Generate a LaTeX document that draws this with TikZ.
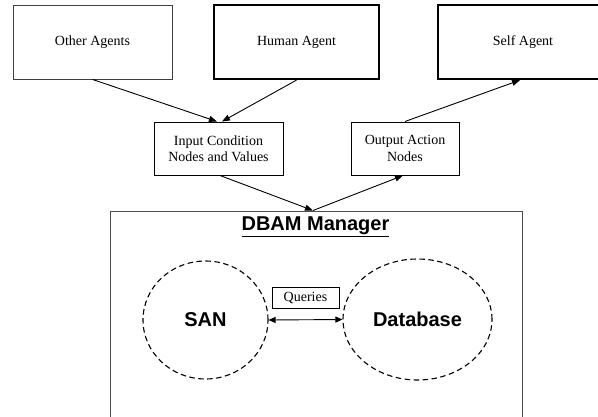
\documentclass[tikz,border=0pt]{standalone}
\usepackage{fontspec}
\setmainfont{Liberation Serif}
\newfontfamily\headfont{Liberation Sans}
\usetikzlibrary{shapes.geometric,arrows.meta}
\tikzset{
  box/.style={draw, rectangle, inner sep=0pt, line width=1pt, align=center,
    font=\fontsize{14}{16.5}\selectfont},
  thinbox/.style={box, draw=black!75, line width=0.9pt},
  thickbox/.style={box, line width=2.2pt},
  cloud/.style={draw, ellipse, inner sep=0pt, line width=1.1pt,
    dash pattern=on 5.5pt off 3.5pt, font=\headfont\bfseries\fontsize{20}{24}\selectfont},
  link/.style={line width=0.9pt, -{Triangle[length=8pt,width=6pt]}},
  both/.style={line width=0.9pt, {Triangle[length=7pt,width=6pt]}-{Triangle[length=7pt,width=6pt]}}
}
\begin{document}
\begin{tikzpicture}[x=1pt,y=-1pt]
\useasboundingbox (0,0) rectangle (598,416);

% agents
\node[thinbox, minimum width=159pt, minimum height=74pt] (other) at (92.5,42) {Other Agents};
\node[thickbox, minimum width=165pt, minimum height=74pt] (human) at (296.5,42) {Human Agent};
\node[thickbox, minimum width=170pt, minimum height=74pt] (self) at (523,42) {Self Agent};

% condition / action nodes
\node[box, minimum width=129pt, minimum height=53pt] (input) at (218.5,148.5) {Input Condition\\Nodes and Values};
\node[box, minimum width=108pt, minimum height=53pt] (output) at (405,148.5) {Output Action\\Nodes};

% manager frame (open at the bottom edge of the page)
\node[draw=black!70, line width=1pt, rectangle, inner sep=0pt,
  minimum width=412pt, minimum height=240pt] (dbam) at (316,331) {};
\node[font=\headfont\bfseries\fontsize{20}{24}\selectfont] (title) at (315.5,226.5) {\underline{DBAM Manager}};

% SAN and database
\node[cloud, minimum width=125pt, minimum height=118pt] (san) at (205.5,320) {SAN};
\node[cloud, minimum width=149pt, minimum height=121pt] (db) at (417.5,319.5) {Database};
\node[box, line width=0.9pt, minimum width=67pt, minimum height=21pt] (queries) at (305.5,297.5) {Queries};

% connectors
\draw[link] (other.south) -- ([xshift=-1.5pt]input.north);
\draw[link] (human.south) -- ([xshift=3.5pt]input.north);
\draw[link] ([xshift=1.5pt]input.south) -- ([xshift=-3pt]dbam.north);
\draw[link] ([xshift=-3pt]dbam.north) -- ([xshift=-2pt]output.south);
\draw[link] (output.north) -- ([xshift=-3pt]self.south);
\draw[both] (san.east) -- (db.west);
\end{tikzpicture}
\end{document}
